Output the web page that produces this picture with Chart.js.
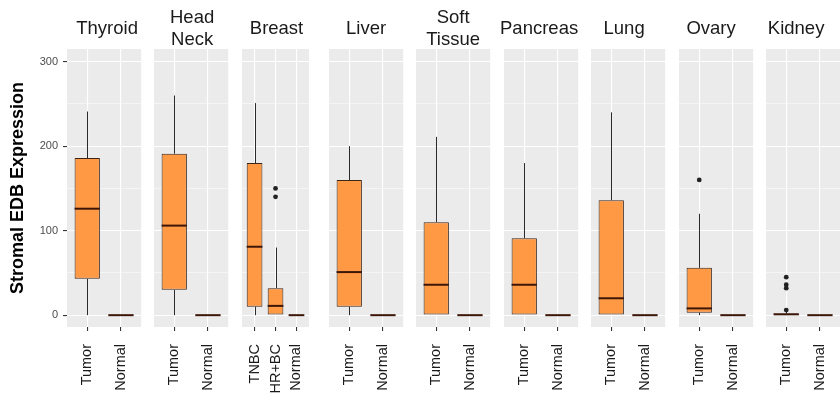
<!DOCTYPE html>
<html><head><meta charset="utf-8">
<script src="https://cdn.jsdelivr.net/npm/chart.js@4"></script>
<style>
html,body{margin:0;padding:0;background:#fff;overflow:hidden}
#wrap{position:relative;width:840px;height:394px;overflow:hidden;background:#fff}
#wrap canvas{position:absolute;top:0}
</style></head><body><div id="wrap"></div>
<script>
// ---------- data ----------
const facets = ['Thyroid', 'Head\nNeck', 'Breast', 'Liver', 'Soft\nTissue', 'Pancreas', 'Lung', 'Ovary', 'Kidney'];
const categories = [
  ['Tumor', 'Normal'], ['Tumor', 'Normal'], ['TNBC', 'HR+BC', 'Normal'],
  ['Tumor', 'Normal'], ['Tumor', 'Normal'], ['Tumor', 'Normal'],
  ['Tumor', 'Normal'], ['Tumor', 'Normal'], ['Tumor', 'Normal']
];
const whiskerLow = [[0, 0], [0, 0], [0, 0, 0], [0, 0], [0, 0], [0, 0], [0, 0], [0, 0], [0, 0]];
const q1 =        [[43, 0], [30, 0], [10, 0, 0], [10, 0], [0, 0], [0, 0], [0, 0], [3, 0], [0, 0]];
const median =    [[126, 0], [106, 0], [81, 11, 0], [51, 0], [36, 0], [36, 0], [20, 0], [8, 0], [1, 0]];
const q3 =        [[186, 0], [191, 0], [180, 32, 0], [160, 0], [110, 0], [91, 0], [136, 0], [56, 0], [2, 0]];
const whiskerHigh = [[241, 0], [260, 0], [251, 80, 0], [200, 0], [211, 0], [180, 0], [240, 0], [120, 0], [4, 0]];
const outliers = [
  [[], []], [[], []], [[], [150, 140], []], [[], []], [[], []],
  [[], []], [[], []], [[160], []], [[45, 36, 32, 6], []]
];
const yTickLabels = [0, 100, 200, 300];
const yTitle = 'Stromal EDB Expression';

// ---------- layout / style ----------
const PANEL_LEFT = 66.7, PANEL_PITCH = 87.4, PANEL_W = 80, M = 6;
const PANEL_TOP = 49, PANEL_BOTTOM = 327, H = 394;
const Y_AXIS_W = 67;
const stripOffset = [3, 1, 1, 0, 0, -2, -4, -5, -7];
const FILL = '#FF9944', EDGE = '#3a2518', MEDIAN = '#3d1608', WHISKER = '#2a2a2a';
const PANEL_BG = '#EBEBEB';
const FONT = "'Liberation Sans', Arial, Helvetica, sans-serif";

Chart.defaults.font.family = FONT;

const bgPlugin = {
  id: 'panelBg',
  beforeDraw(chart) {
    const a = chart.chartArea, c = chart.ctx;
    c.save(); c.fillStyle = PANEL_BG; c.fillRect(a.left, a.top, a.right - a.left, a.bottom - a.top); c.restore();
  }
};

function boxPlugin(fi) {
  return {
    id: 'boxExtras',
    afterDatasetsDraw(chart) {
      const c = chart.ctx, xs = chart.scales.x, ys = chart.scales.y;
      const cats = categories[fi];
      const unit = xs.getPixelForValue(2) - xs.getPixelForValue(1);
      const bw = 0.75 * unit;
      c.save();
      cats.forEach((cat, j) => {
        const xc = xs.getPixelForValue(j + 1);
        const x = Math.round(xc) + 0.5;
        c.strokeStyle = WHISKER; c.lineWidth = 1;
        c.beginPath();
        c.moveTo(x, ys.getPixelForValue(whiskerLow[fi][j])); c.lineTo(x, ys.getPixelForValue(q1[fi][j]));
        c.moveTo(x, ys.getPixelForValue(q3[fi][j])); c.lineTo(x, ys.getPixelForValue(whiskerHigh[fi][j]));
        c.stroke();
        const ym = ys.getPixelForValue(median[fi][j]);
        c.strokeStyle = MEDIAN; c.lineWidth = 2;
        c.beginPath(); c.moveTo(xc - bw / 2, ym); c.lineTo(xc + bw / 2, ym); c.stroke();
      });
      c.restore();
    }
  };
}

function stripPlugin(fi) {
  return {
    id: 'strip',
    afterDraw(chart) {
      const a = chart.chartArea, c = chart.ctx;
      const lines = facets[fi].split('\n');
      const cx = (a.left + a.right) / 2 + stripOffset[fi];
      const lh = 22, cy = 28.5;
      c.save();
      c.fillStyle = '#1a1a1a'; c.font = '18.5px ' + FONT;
      c.textAlign = 'center'; c.textBaseline = 'middle';
      lines.forEach((t, k) => c.fillText(t, cx, cy + (k - (lines.length - 1) / 2) * lh));
      c.restore();
    }
  };
}

const wrap = document.getElementById('wrap');
facets.forEach((f, fi) => {
  const cats = categories[fi];
  const n = cats.length;
  const first = fi === 0;
  const left = first ? 0 : Math.round(PANEL_LEFT + fi * PANEL_PITCH) - M;
  const width = first ? Y_AXIS_W + PANEL_W + M : PANEL_W + 2 * M;
  const cv = document.createElement('canvas');
  cv.width = width; cv.height = H;
  cv.style.left = left + 'px'; cv.style.width = width + 'px'; cv.style.height = H + 'px';
  wrap.appendChild(cv);
  const boxData = cats.map((c, j) => ({ x: j + 1, y: [q1[fi][j], q3[fi][j]] }));
  const outData = [];
  cats.forEach((c, j) => outliers[fi][j].forEach(v => outData.push({ x: j + 1, y: v })));
  new Chart(cv, {
    type: 'bar',
    data: {
      datasets: [
        { type: 'bar', data: boxData, backgroundColor: FILL, borderColor: EDGE, borderWidth: 1,
          borderSkipped: false, categoryPercentage: 1, barPercentage: 0.75, order: 2 },
        { type: 'scatter', data: outData, pointRadius: 2.4, pointBackgroundColor: '#222',
          pointBorderWidth: 0, order: 1 }
      ]
    },
    options: {
      responsive: false, animation: false, devicePixelRatio: 1,
      layout: { autoPadding: false, padding: { top: PANEL_TOP, left: first ? 0 : M, right: M, bottom: 0 } },
      plugins: { legend: { display: false }, tooltip: { enabled: false } },
      scales: {
        x: {
          type: 'linear', min: 0.4, max: n + 0.6, offset: false,
          afterBuildTicks(s) { s.ticks = cats.map((c, j) => ({ value: j + 1 })); },
          afterFit(s) { s.height = H - PANEL_BOTTOM; },
          ticks: {
            callback: (v) => cats[v - 1], autoSkip: false, minRotation: 90, maxRotation: 90,
            font: { size: 14.5 }, color: '#1a1a1a', padding: 13
          },
          grid: { color: '#ffffff', lineWidth: 1.1, tickColor: '#333', tickLength: 4, offset: false, drawTicks: true },
          border: { display: false }
        },
        y: {
          type: 'linear', min: -14, max: 315,
          afterFit(s) { s.width = first ? Y_AXIS_W : 0; },
          ticks: {
            display: first, stepSize: 50, includeBounds: false, autoSkip: false,
            callback: (v) => (yTickLabels.includes(v) ? String(v) : ''),
            font: { size: 11 }, color: '#4D4D4D', padding: 5
          },
          grid: {
            color: '#ffffff',
            lineWidth: (ctx) => (ctx.tick && yTickLabels.includes(ctx.tick.value) ? 1.1 : 0.5),
            tickColor: (ctx) => (ctx.tick && yTickLabels.includes(ctx.tick.value) ? '#333' : 'rgba(0,0,0,0)'),
            tickLength: 4, drawTicks: first
          },
          border: { display: false },
          title: {
            display: first, text: yTitle, color: '#000',
            font: { size: 18, weight: 'bold' }, padding: { top: 7, bottom: 0 }
          }
        }
      }
    },
    plugins: [bgPlugin, boxPlugin(fi), stripPlugin(fi)]
  });
});
</script></body></html>
